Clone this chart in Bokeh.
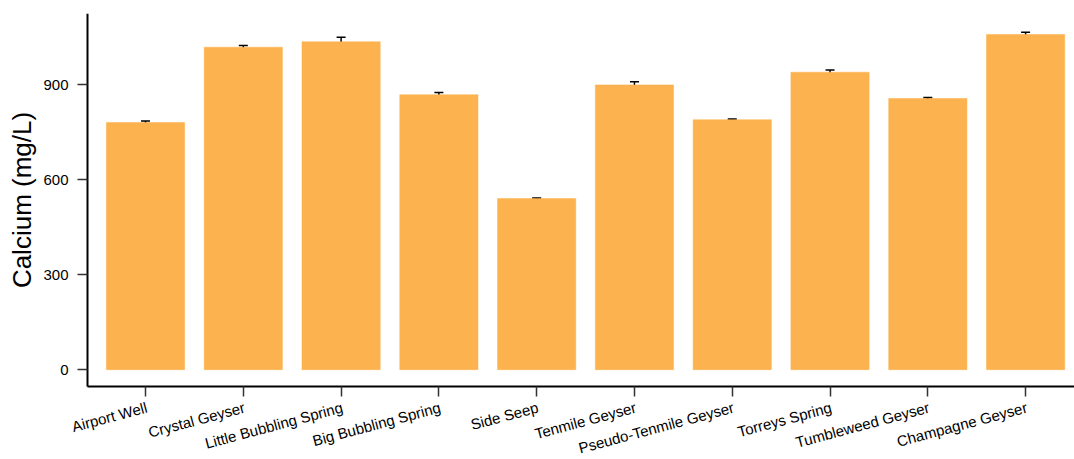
import math
from bokeh.plotting import figure
from bokeh.models import ColumnDataSource, Range1d, FixedTicker, Whisker, TeeHead, LabelSet
from bokeh.core.properties import value
from bokeh.embed import file_html
from bokeh.resources import INLINE

sites = ["Airport Well", "Crystal Geyser", "Little Bubbling Spring", "Big Bubbling Spring",
         "Side Seep", "Tenmile Geyser", "Pseudo-Tenmile Geyser", "Torreys Spring",
         "Tumbleweed Geyser", "Champagne Geyser"]
calcium = [780, 1018, 1035, 868, 540, 899, 789, 939, 856, 1058]
calcium_err = [5, 5, 14, 7, 2, 10, 2, 7, 3, 7]
y_ticks = [0, 300, 600, 900]

AXIS_Y = -53.6      # where the x axis sits (data units)
Y_TOP = 1124.3
Y_BOTTOM = -283.5   # room below the axis for the rotated names
AXIS_X = -0.593     # where the y axis sits (data units)
X_LEFT = -1.483     # room left of the axis for tick labels and title
X_RIGHT = 9.5

xs = list(range(len(sites)))
src = ColumnDataSource(dict(
    x=xs, y=calcium,
    lo=[v - e for v, e in zip(calcium, calcium_err)],
    hi=[v + e for v, e in zip(calcium, calcium_err)],
))
lab_src = ColumnDataSource(dict(x=xs, y=[AXIS_Y] * len(xs), name=sites))

p = figure(width=1074, height=459, output_backend="svg", toolbar_location=None,
           x_range=Range1d(X_LEFT, X_RIGHT), y_range=Range1d(Y_BOTTOM, Y_TOP),
           min_border_left=0, min_border_top=13, min_border_right=0, min_border_bottom=0)
p.outline_line_color = None
p.xgrid.visible = False
p.ygrid.visible = False

p.vbar(x="x", top="y", bottom=0, width=0.8, source=src,
       fill_color="#FCB24E", line_color="#FCB24E", line_width=0.5)

w = Whisker(source=src, base="x", lower="lo", upper="hi", line_color="black", line_width=1.5,
            upper_head=TeeHead(size=9, line_color="black", line_width=1.5),
            lower_head=TeeHead(size=9, line_color="black", line_width=1.5))
p.add_layout(w)

font = "Liberation Sans"
for ax in (p.xaxis[0], p.yaxis[0]):
    ax.axis_line_color = "black"
    ax.axis_line_width = 2
    ax.major_tick_line_color = "#333333"
    ax.major_tick_line_width = 1.5
    ax.major_tick_in = 0
    ax.major_tick_out = 10
    ax.minor_tick_line_color = None
    ax.major_label_text_font = font
    ax.major_label_text_font_size = "15px"
    ax.major_label_text_color = "black"

p.xaxis[0].ticker = FixedTicker(ticks=xs)
p.xaxis[0].major_label_overrides = {i: "" for i in xs}
p.xaxis[0].fixed_location = AXIS_Y
p.xaxis[0].bounds = (AXIS_X, X_RIGHT)

labels = LabelSet(x="x", y="y", text="name", source=lab_src, y_offset=-12, x_offset=-1,
                  angle=math.radians(15), text_align="right", text_baseline="top",
                  text_font=value(font), text_font_size=value("15px"), text_color="black")
p.add_layout(labels)

p.yaxis[0].ticker = FixedTicker(ticks=y_ticks)
p.yaxis[0].fixed_location = AXIS_X
p.yaxis[0].bounds = (AXIS_Y, Y_TOP)
p.yaxis[0].major_label_standoff = 9
p.yaxis[0].axis_label = "Calcium (mg/L)"
p.yaxis[0].axis_label_text_font = font
p.yaxis[0].axis_label_text_font_size = "26px"
p.yaxis[0].axis_label_text_font_style = "normal"
p.yaxis[0].axis_label_text_color = "black"
p.yaxis[0].axis_label_standoff = 3

open("out.html", "w").write(file_html(p, INLINE))
